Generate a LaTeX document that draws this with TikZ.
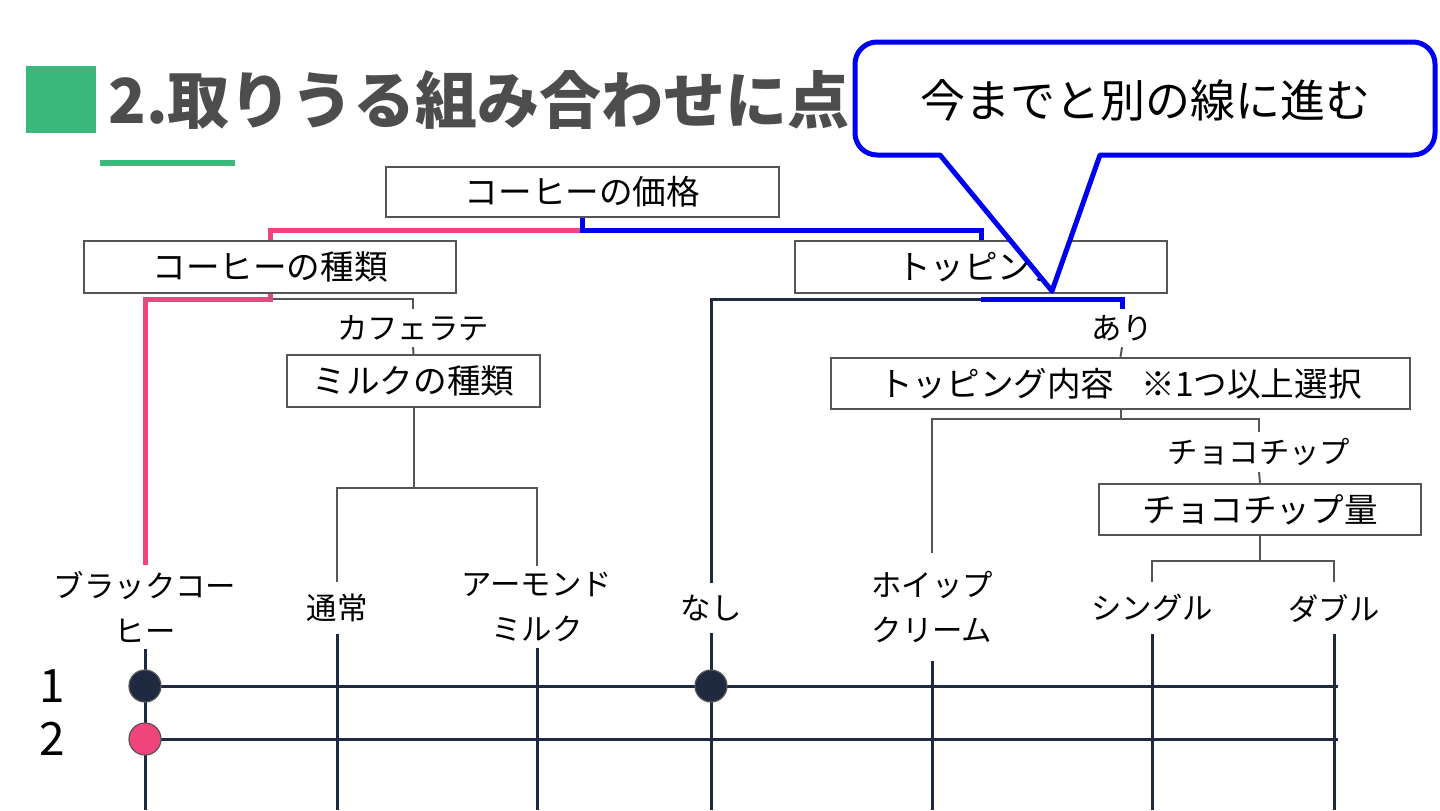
\documentclass[tikz,border=0pt]{standalone}
\usepackage{fontspec}
\setmainfont{Noto Sans CJK JP}
\usetikzlibrary{calc}
\definecolor{pinkc}{RGB}{240,68,124}
\definecolor{bluec}{RGB}{0,0,240}
\definecolor{navy}{RGB}{31,41,64}
\definecolor{boxgray}{RGB}{85,85,85}
\definecolor{greenc}{RGB}{61,184,125}
\definecolor{titlegray}{RGB}{77,77,77}
\begin{document}
\begin{tikzpicture}[x=0.5pt,y=-0.5pt,
  box/.style={draw=boxgray, line width=1.2pt, fill=white, inner sep=0pt, font=\fontsize{16.8}{18}\selectfont},
  lbl/.style={inner sep=3pt, align=center, font=\fontsize{15.2}{22.5}\selectfont},
  gline/.style={draw=boxgray, line width=1pt},
  nline/.style={draw=navy, line width=1.5pt},
  pline/.style={draw=pinkc, line width=2.5pt},
  bline/.style={draw=bluec, line width=2.5pt},
  dot/.style={circle, minimum size=16pt, inner sep=0pt, draw=boxgray, line width=0.6pt},
  num/.style={inner sep=0pt, font=\fontsize{23}{23}\selectfont}]
\useasboundingbox (0,0) rectangle (1440,810);
% title
\fill[greenc] (26,66) rectangle (96,133);
\node[anchor=west, inner sep=0pt, text=titlegray, font=\fontsize{31}{31}\selectfont\bfseries] (title) at (108,100) {2.取りうる組み合わせに点};
\fill[greenc] (100,160) rectangle (235,166);
% boxes
\node[box, minimum width=196.5pt, minimum height=25pt] (price) at (582.5,192) {コーヒーの価格};
\node[box, minimum width=186pt, minimum height=26pt] (kind) at (270,267) {コーヒーの種類};
\node[box, minimum width=186pt, minimum height=26pt] (top) at (981,267) {トッピング};
\node[box, minimum width=126.5pt, minimum height=26pt] (milk) at (413.5,381) {ミルクの種類};
\node[box, minimum width=289.5pt, minimum height=25.5pt] (tc) at (1120.5,383.5) {トッピング内容\hspace{0.8em}※1つ以上選択};
\node[box, minimum width=161pt, minimum height=25.5pt] (camt) at (1260,509.5) {チョコチップ量};
% labels
\node[lbl] (cafe) at (413,328) {カフェラテ};
\node[lbl] (ari) at (1122,328) {あり};
\node[lbl] (choco) at (1259,452) {チョコチップ};
\node[lbl] (bc) at (145,607) {ブラックコー\\ヒー};
\node[lbl, inner ysep=6pt] (tsujo) at (337,608) {通常};
\node[lbl] (almond) at (537,607) {アーモンド\\ミルク};
\node[lbl, inner ysep=6pt] (nashi) at (711,608) {なし};
\node[lbl, inner ysep=9pt] (whip) at (932,607) {ホイップ\\クリーム};
\node[lbl, inner ysep=6pt] (single) at (1152,608) {シングル};
\node[lbl, inner ysep=6pt] (double) at (1334,608) {ダブル};
% tree connectors (gray)
\draw[gline] (kind.south) -- ++(0,5) -| (cafe.north);
\draw[gline] (cafe.south) -- (milk.north);
\draw[gline] (milk.south) -- ++(0,80) coordinate (mj) -| (tsujo.north);
\draw[gline] (mj) -| (almond.north);
\draw[gline] (ari.south) -- (tc.north);
\draw[gline] (tc.south) -- ++(0,9) coordinate (tj) -| (whip.north);
\draw[gline] (tj) -| (choco.north);
\draw[gline] (choco.south) -- (camt.north);
\draw[gline] (camt.south) -- ++(0,25) coordinate (cj) -| (single.north);
\draw[gline] (cj) -| (double.north);
\draw[nline] (top.south) ++(0,5) coordinate (topj) -| (nashi.north);
% highlighted paths
\draw[pline] (price.south) -- ++(0,12) -| (kind.north);
\draw[bline] (price.south) -- ++(0,12) -| (top.north);
\draw[pline] (kind.south) -- ++(0,5) -| (bc.north);
\draw[bline] (topj) -| (ari.north);
% lower grid
\coordinate (bot) at (0,810);
\foreach \n in {bc,tsujo,almond,nashi,whip,single,double}
  \draw[nline] (\n.south) -- (\n.south |- bot);
\coordinate (r1e) at (1338,686);
\coordinate (r2e) at (1338,739);
\node[num] (n1) at (52,686) {1};
\node[num] (n2) at (52,739) {2};
\draw[nline] (bc.south |- r1e) -- (r1e);
\draw[nline] (bc.south |- r2e) -- (r2e);
\node[dot, fill=navy] (d1a) at (bc.south |- r1e) {};
\node[dot, fill=navy] (d1b) at (nashi.south |- r1e) {};
\node[dot, fill=pinkc] (d2a) at (bc.south |- r2e) {};
% callout
\draw[bluec, line width=2.5pt, fill=white, line join=round]
  (1100,155) [rounded corners=11pt] -- (1435,155) -- (1435,42) -- (855,42) -- (855,155) [sharp corners] -- (940,155) -- (1052,291) -- cycle;
\node[inner sep=0pt, font=\fontsize{22.5}{22.5}\selectfont] (callout) at (1145,100) {今までと別の線に進む};
\end{tikzpicture}
\end{document}
